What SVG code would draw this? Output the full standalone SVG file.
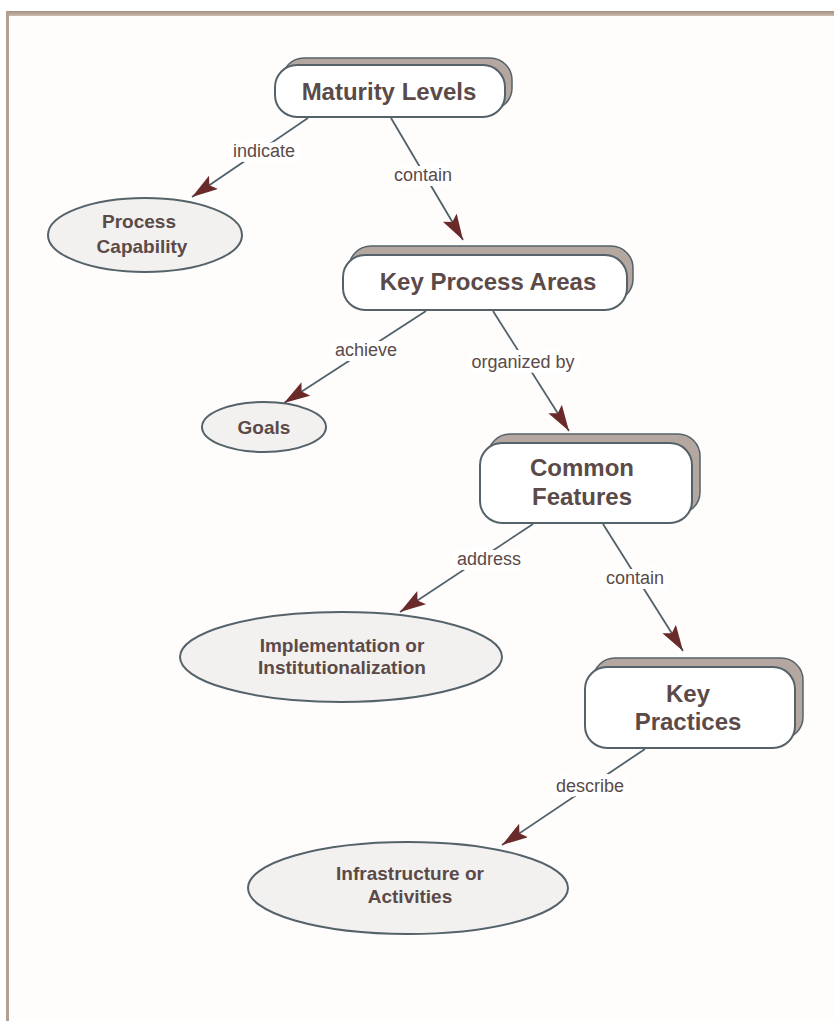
<svg xmlns="http://www.w3.org/2000/svg" width="834" height="1021" viewBox="0 0 834 1021">
<defs>
<marker id="arr" markerUnits="userSpaceOnUse" markerWidth="28" markerHeight="18" refX="26" refY="8" orient="auto">
<path d="M0,0 L26,8 L0,16 L5,8 Z" fill="#6a2a2a"/>
</marker>
<linearGradient id="topband" x1="0" y1="0" x2="0" y2="1">
<stop offset="0" stop-color="#a39080"/>
<stop offset="1" stop-color="#c9bcb0"/>
</linearGradient>
</defs>
<style>
.box{fill:#ffffff;stroke:#55626a;stroke-width:2}
.shadow{fill:#b4a79f;stroke:#55626a;stroke-width:1.5}
.ell{fill:#f2f1ef;stroke:#55626a;stroke-width:2}
.title{font-family:"Liberation Sans",Arial,sans-serif;font-weight:bold;font-size:24px;fill:#5b4a48;text-anchor:middle}
.etext{font-family:"Liberation Sans",Arial,sans-serif;font-weight:bold;font-size:19px;fill:#5b4a48;text-anchor:middle}
.lbl{font-family:"Liberation Sans",Arial,sans-serif;font-size:18px;fill:#5b4a48;text-anchor:middle;stroke:#ffffff;stroke-width:10px;paint-order:stroke;stroke-linejoin:round}
.conn{stroke:#50616b;stroke-width:1.8;fill:none}
</style>
<rect x="0" y="0" width="834" height="1021" fill="#ffffff"/>
<rect x="8" y="16" width="826" height="1005" fill="#fffdfb"/>
<rect x="6" y="11" width="828" height="5" fill="url(#topband)"/>
<rect x="6" y="11" width="3" height="1010" fill="#b0a192"/>

<g id="connectors">
<line class="conn" x1="308" y1="118" x2="192" y2="197" marker-end="url(#arr)"/>
<line class="conn" x1="391" y1="118" x2="463" y2="240" marker-end="url(#arr)"/>
<line class="conn" x1="426" y1="311" x2="284" y2="403" marker-end="url(#arr)"/>
<line class="conn" x1="493" y1="311" x2="569" y2="431" marker-end="url(#arr)"/>
<line class="conn" x1="533" y1="524" x2="400" y2="612" marker-end="url(#arr)"/>
<line class="conn" x1="603" y1="524" x2="683" y2="651" marker-end="url(#arr)"/>
<line class="conn" x1="645" y1="749" x2="502" y2="845" marker-end="url(#arr)"/>
<text class="lbl" x="264" y="157">indicate</text>
<text class="lbl" x="423" y="181">contain</text>
<text class="lbl" x="366" y="356">achieve</text>
<text class="lbl" x="523" y="368">organized by</text>
<text class="lbl" x="489" y="565">address</text>
<text class="lbl" x="635" y="584">contain</text>
<text class="lbl" x="590" y="792">describe</text>
</g>

<g id="maturity-levels">
<rect class="shadow" x="282" y="58" width="230" height="52" rx="22"/>
<rect class="box" x="275" y="65" width="230" height="52" rx="22"/>
<text class="title" x="389" y="100">Maturity Levels</text>
</g>

<g id="key-process-areas">
<rect class="shadow" x="349" y="246" width="284" height="55" rx="22"/>
<rect class="box" x="343" y="255" width="284" height="55" rx="22"/>
<text class="title" x="488" y="290">Key Process Areas</text>
</g>

<g id="common-features">
<rect class="shadow" x="488" y="434" width="212" height="80" rx="22"/>
<rect class="box" x="480" y="443" width="212" height="80" rx="22"/>
<text class="title" x="582" y="476">Common</text>
<text class="title" x="582" y="505">Features</text>
</g>

<g id="key-practices">
<rect class="shadow" x="593" y="658" width="210" height="81" rx="22"/>
<rect class="box" x="585" y="667" width="210" height="81" rx="22"/>
<text class="title" x="688" y="702">Key</text>
<text class="title" x="688" y="730">Practices</text>
</g>

<g id="process-capability">
<ellipse class="ell" cx="145" cy="235" rx="97" ry="37"/>
<text class="etext" x="139" y="228">Process</text>
<text class="etext" x="142" y="253">Capability</text>
</g>

<g id="goals">
<ellipse class="ell" cx="264" cy="427" rx="62" ry="25"/>
<text class="etext" x="264" y="434">Goals</text>
</g>

<g id="implementation">
<ellipse class="ell" cx="341" cy="657" rx="161" ry="45"/>
<text class="etext" x="342" y="652">Implementation or</text>
<text class="etext" x="342" y="674">Institutionalization</text>
</g>

<g id="infrastructure">
<ellipse class="ell" cx="408" cy="888" rx="160" ry="46"/>
<text class="etext" x="410" y="880">Infrastructure or</text>
<text class="etext" x="410" y="903">Activities</text>
</g>
</svg>
